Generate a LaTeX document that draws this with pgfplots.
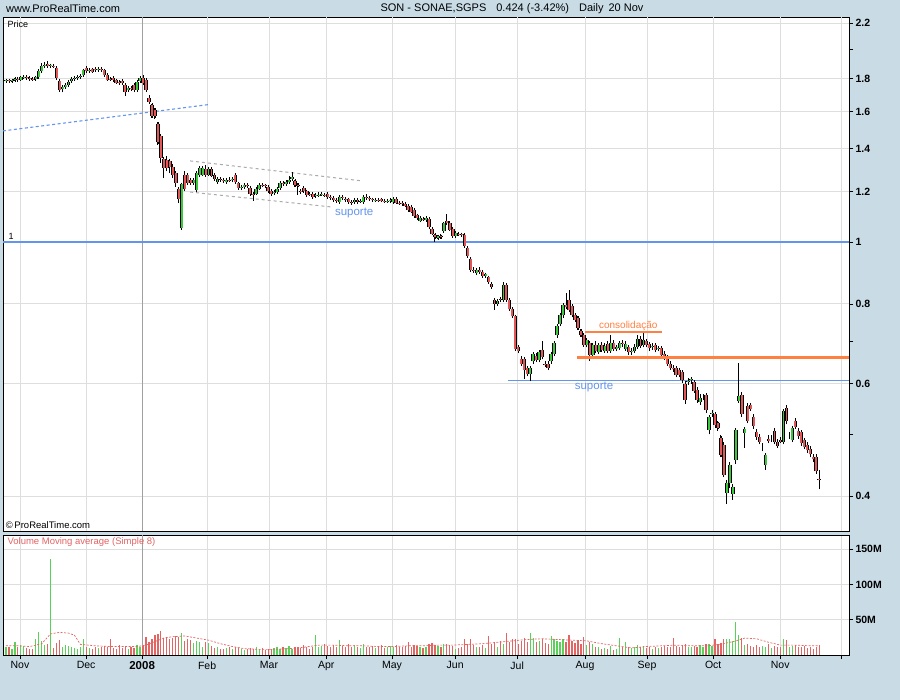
\documentclass[border=0pt]{standalone}
\usepackage{fontspec}
\setmainfont{Liberation Sans}
\usepackage{pgfplots}
\usepackage{pgfplotstable}
\pgfplotsset{compat=1.18}
\definecolor{bg}{RGB}{201,220,230}
\definecolor{gridc}{RGB}{222,222,222}
\definecolor{yearc}{RGB}{160,160,160}
\definecolor{cred}{RGB}{226,88,88}
\definecolor{cgreen}{RGB}{60,200,60}
\definecolor{vred}{RGB}{228,100,100}
\definecolor{vgreen}{RGB}{90,210,90}
\definecolor{lblue}{RGB}{100,149,237}
\definecolor{orng}{RGB}{255,128,64}
\definecolor{tagy}{RGB}{255,204,0}
\definecolor{chan}{RGB}{170,170,170}
% rising days (close >= open): x open high low close volume(M)
\pgfplotstableread{
x o h l c v
0 1.785 1.795 1.775 1.790 12
2 1.785 1.795 1.778 1.790 9
3 1.790 1.805 1.785 1.800 18
5 1.795 1.815 1.790 1.810 14
6 1.810 1.822 1.800 1.812 13
10 1.798 1.815 1.795 1.810 22
11 1.810 1.858 1.805 1.852 33
12 1.852 1.905 1.848 1.885 20
13 1.885 1.915 1.875 1.895 14
15 1.885 1.900 1.870 1.890 136
19 1.735 1.762 1.715 1.745 12
20 1.745 1.768 1.738 1.760 14
21 1.760 1.785 1.752 1.780 13
22 1.785 1.805 1.778 1.800 11
23 1.800 1.812 1.792 1.805 10
24 1.805 1.818 1.798 1.812 9
25 1.812 1.826 1.806 1.820 12
26 1.822 1.862 1.818 1.855 23
28 1.850 1.868 1.842 1.860 10
31 1.855 1.870 1.848 1.865 10
41 1.730 1.748 1.722 1.742 9
44 1.729 1.785 1.725 1.780 14
45 1.787 1.812 1.780 1.806 12
59 1.050 1.235 1.045 1.230 31
63 1.237 1.258 1.230 1.250 17
64 1.206 1.290 1.195 1.282 20
65 1.273 1.315 1.262 1.305 18
66 1.275 1.312 1.268 1.305 12
68 1.275 1.305 1.268 1.300 17
71 1.240 1.262 1.235 1.255 11
74 1.240 1.260 1.235 1.252 10
76 1.248 1.262 1.240 1.255 9
79 1.215 1.228 1.205 1.220 8
80 1.220 1.235 1.212 1.228 7
84 1.190 1.218 1.185 1.212 12
85 1.212 1.235 1.205 1.228 8
90 1.192 1.205 1.185 1.198 10
91 1.198 1.215 1.192 1.210 11
92 1.215 1.242 1.210 1.236 9
94 1.232 1.250 1.226 1.242 10
95 1.242 1.268 1.236 1.250 13
96 1.255 1.285 1.250 1.262 9
104 1.178 1.192 1.172 1.185 28
105 1.185 1.195 1.178 1.186 12
106 1.188 1.196 1.180 1.190 13
112 1.155 1.180 1.150 1.175 21
117 1.155 1.170 1.150 1.165 14
119 1.156 1.165 1.150 1.158 10
120 1.155 1.180 1.150 1.175 15
124 1.163 1.170 1.156 1.165 10
128 1.158 1.166 1.152 1.160 11
129 1.158 1.168 1.152 1.163 13
130 1.155 1.172 1.150 1.168 12
139 1.080 1.095 1.074 1.090 11
141 1.083 1.098 1.078 1.092 12
145 1.015 1.026 1.010 1.020 13
147 1.040 1.075 1.035 1.069 16
151 1.020 1.036 1.015 1.032 9
158 0.893 0.910 0.888 0.905 12
161 0.885 0.895 0.880 0.890 10
165 0.800 0.812 0.795 0.808 12
167 0.811 0.865 0.806 0.857 16
176 0.622 0.640 0.605 0.636 31
177 0.650 0.672 0.645 0.668 24
179 0.654 0.678 0.648 0.673 20
183 0.650 0.672 0.645 0.668 27
184 0.668 0.700 0.662 0.695 22
185 0.715 0.745 0.708 0.740 20
186 0.745 0.772 0.738 0.768 19
187 0.768 0.800 0.760 0.797 22
195 0.690 0.708 0.684 0.702 14
197 0.666 0.695 0.660 0.690 16
199 0.672 0.695 0.668 0.690 11
201 0.676 0.694 0.670 0.688 10
203 0.675 0.715 0.670 0.695 13
205 0.680 0.690 0.674 0.685 9
206 0.683 0.700 0.678 0.695 24
208 0.680 0.700 0.676 0.692 19
210 0.672 0.682 0.666 0.675 10
211 0.675 0.692 0.670 0.685 12
212 0.685 0.715 0.680 0.705 14
214 0.690 0.720 0.684 0.702 13
217 0.685 0.694 0.678 0.688 9
219 0.680 0.688 0.674 0.682 10
229 0.605 0.612 0.598 0.606 12
230 0.608 0.615 0.600 0.610 11
233 0.562 0.578 0.556 0.570 14
234 0.572 0.578 0.565 0.572 12
236 0.508 0.536 0.500 0.532 16
237 0.538 0.546 0.532 0.540 13
242 0.404 0.424 0.389 0.419 22
243 0.419 0.452 0.412 0.447 22
244 0.403 0.418 0.395 0.414 20
245 0.456 0.510 0.450 0.508 47
246 0.564 0.647 0.560 0.575 28
248 0.502 0.514 0.476 0.510 14
254 0.477 0.484 0.470 0.477 13
255 0.448 0.468 0.440 0.464 12
257 0.492 0.498 0.486 0.492 10
261 0.487 0.548 0.482 0.544 22
263 0.497 0.504 0.492 0.497 12
264 0.490 0.516 0.486 0.512 13
}\up
% falling days (close < open)
\pgfplotstableread{
x o h l c v
1 1.790 1.800 1.780 1.785 11
4 1.800 1.808 1.788 1.792 12
7 1.812 1.822 1.800 1.805 10
8 1.805 1.815 1.795 1.800 8
9 1.800 1.812 1.790 1.798 9
14 1.900 1.920 1.880 1.885 16
16 1.888 1.895 1.875 1.882 10
17 1.870 1.875 1.800 1.806 17
18 1.787 1.795 1.718 1.729 21
27 1.870 1.880 1.845 1.850 12
29 1.862 1.870 1.842 1.848 9
30 1.865 1.872 1.850 1.855 11
32 1.865 1.872 1.850 1.855 12
33 1.855 1.862 1.820 1.825 13
34 1.825 1.832 1.790 1.795 11
35 1.800 1.810 1.788 1.795 23
36 1.806 1.815 1.788 1.793 10
37 1.790 1.798 1.770 1.776 9
38 1.780 1.790 1.765 1.772 14
39 1.787 1.795 1.768 1.774 10
40 1.761 1.768 1.695 1.716 13
42 1.740 1.752 1.728 1.735 11
43 1.761 1.768 1.722 1.729 10
46 1.806 1.825 1.768 1.774 13
47 1.793 1.800 1.722 1.729 26
48 1.681 1.700 1.650 1.655 19
49 1.638 1.645 1.565 1.575 22
50 1.609 1.620 1.560 1.575 28
51 1.530 1.540 1.420 1.432 30
52 1.465 1.472 1.330 1.352 34
53 1.347 1.360 1.259 1.306 24
54 1.344 1.362 1.290 1.306 25
55 1.340 1.350 1.280 1.310 22
56 1.310 1.322 1.258 1.273 24
57 1.282 1.290 1.220 1.237 27
58 1.210 1.220 1.150 1.168 25
60 1.273 1.290 1.200 1.210 20
61 1.273 1.280 1.230 1.237 22
62 1.250 1.258 1.232 1.237 21
67 1.300 1.320 1.265 1.275 19
69 1.300 1.310 1.262 1.270 13
70 1.275 1.282 1.248 1.255 10
72 1.255 1.265 1.242 1.250 9
73 1.250 1.258 1.238 1.245 8
75 1.252 1.262 1.242 1.250 12
77 1.273 1.280 1.235 1.240 11
78 1.235 1.242 1.208 1.215 10
81 1.228 1.235 1.215 1.222 9
82 1.215 1.222 1.182 1.190 10
83 1.190 1.198 1.160 1.188 9
86 1.228 1.238 1.218 1.226 10
87 1.226 1.234 1.214 1.222 7
88 1.220 1.228 1.192 1.200 9
89 1.200 1.208 1.180 1.190 8
93 1.236 1.245 1.225 1.232 12
97 1.245 1.252 1.220 1.228 11
98 1.228 1.235 1.185 1.225 12
99 1.200 1.208 1.188 1.195 10
100 1.215 1.222 1.195 1.200 14
101 1.200 1.206 1.180 1.185 11
102 1.190 1.198 1.182 1.188 9
103 1.190 1.196 1.168 1.175 12
107 1.185 1.192 1.176 1.182 15
108 1.190 1.196 1.170 1.175 13
109 1.175 1.182 1.166 1.172 11
110 1.170 1.178 1.158 1.163 14
111 1.165 1.172 1.152 1.160 12
113 1.175 1.184 1.165 1.170 13
114 1.168 1.176 1.155 1.162 12
115 1.166 1.172 1.150 1.155 16
116 1.155 1.162 1.144 1.150 11
118 1.165 1.172 1.150 1.155 12
121 1.175 1.190 1.165 1.172 12
122 1.170 1.178 1.160 1.166 11
123 1.166 1.172 1.158 1.163 13
125 1.165 1.172 1.155 1.160 12
126 1.166 1.172 1.154 1.160 14
127 1.160 1.166 1.152 1.158 10
131 1.168 1.174 1.146 1.152 14
132 1.152 1.158 1.144 1.150 12
133 1.150 1.156 1.140 1.147 11
134 1.147 1.153 1.134 1.140 13
135 1.140 1.146 1.116 1.122 18
136 1.135 1.140 1.110 1.115 12
137 1.122 1.128 1.092 1.098 14
138 1.100 1.106 1.084 1.090 13
140 1.088 1.095 1.080 1.087 10
142 1.087 1.092 1.050 1.055 15
143 1.047 1.052 1.025 1.030 17
144 1.025 1.030 1.000 1.018 14
146 1.020 1.028 1.012 1.018 12
148 1.080 1.105 1.062 1.069 15
149 1.070 1.076 1.040 1.045 14
150 1.047 1.052 1.018 1.022 13
152 1.030 1.036 1.022 1.028 10
153 1.028 1.034 1.020 1.025 12
154 1.026 1.030 0.980 0.985 23
155 0.980 0.985 0.945 0.950 16
156 0.940 0.945 0.898 0.904 22
157 0.905 0.912 0.895 0.900 14
159 0.905 0.912 0.892 0.898 11
160 0.898 0.905 0.880 0.885 14
162 0.880 0.885 0.860 0.865 27
163 0.860 0.865 0.845 0.850 15
164 0.811 0.815 0.782 0.800 18
166 0.815 0.820 0.805 0.811 20
168 0.857 0.862 0.805 0.811 31
169 0.811 0.815 0.780 0.785 18
170 0.785 0.790 0.760 0.765 22
171 0.765 0.770 0.675 0.680 23
172 0.685 0.690 0.670 0.676 16
173 0.656 0.662 0.640 0.645 20
174 0.656 0.660 0.610 0.631 24
175 0.634 0.640 0.616 0.622 18
178 0.664 0.670 0.650 0.654 18
180 0.678 0.700 0.655 0.661 22
181 0.645 0.652 0.638 0.642 17
182 0.645 0.650 0.630 0.636 15
188 0.797 0.832 0.785 0.790 18
189 0.811 0.840 0.778 0.782 28
190 0.794 0.800 0.762 0.768 20
191 0.768 0.772 0.750 0.755 17
192 0.760 0.765 0.728 0.733 21
193 0.725 0.730 0.710 0.715 16
194 0.715 0.720 0.685 0.690 26
196 0.695 0.700 0.652 0.666 18
198 0.690 0.700 0.670 0.675 12
200 0.690 0.698 0.672 0.678 9
202 0.692 0.700 0.670 0.675 8
204 0.695 0.702 0.676 0.680 7
207 0.695 0.702 0.686 0.692 12
209 0.685 0.690 0.666 0.672 11
213 0.705 0.712 0.682 0.688 11
215 0.700 0.706 0.684 0.690 10
216 0.692 0.698 0.676 0.682 12
218 0.690 0.696 0.672 0.678 11
220 0.682 0.688 0.660 0.665 12
221 0.668 0.674 0.654 0.660 13
222 0.660 0.665 0.640 0.645 11
223 0.645 0.650 0.630 0.635 12
224 0.635 0.642 0.626 0.632 24
225 0.635 0.640 0.614 0.620 13
226 0.631 0.636 0.614 0.620 12
227 0.625 0.630 0.602 0.608 14
228 0.600 0.606 0.558 0.566 16
231 0.603 0.608 0.580 0.585 13
232 0.587 0.592 0.560 0.566 12
235 0.576 0.580 0.540 0.546 15
238 0.538 0.542 0.512 0.517 22
239 0.520 0.524 0.506 0.512 15
240 0.493 0.498 0.460 0.464 17
241 0.481 0.486 0.428 0.432 22
247 0.576 0.582 0.532 0.538 24
249 0.554 0.560 0.520 0.524 16
250 0.556 0.560 0.544 0.548 13
251 0.532 0.538 0.510 0.516 12
252 0.505 0.510 0.490 0.496 14
253 0.496 0.500 0.482 0.487 12
256 0.492 0.498 0.484 0.488 15
258 0.506 0.512 0.482 0.487 13
259 0.487 0.492 0.476 0.480 11
260 0.490 0.496 0.484 0.487 12
262 0.550 0.556 0.518 0.524 21
265 0.524 0.530 0.510 0.514 14
266 0.506 0.512 0.492 0.497 12
267 0.504 0.508 0.480 0.485 11
268 0.490 0.494 0.474 0.478 13
269 0.481 0.486 0.468 0.473 10
270 0.475 0.480 0.460 0.465 12
271 0.460 0.466 0.452 0.457 9
272 0.460 0.466 0.434 0.438 11
273 0.426 0.440 0.410 0.424 14.8
}\dn
\pgfplotsset{
  wick/.style={draw=none, mark=none, forget plot,
    error bars/.cd, y dir=plus, y explicit, error mark=none,
    error bar style={draw=black, line width=0.9pt}},
  bodyline/.style={draw=none, mark=none, forget plot,
    error bars/.cd, y dir=both, y explicit,
    error bar style={draw=black, line width=3.5pt},
    error mark=-, error mark options={draw=black, line width=0.8pt, mark size=1.75pt}},
  bodyfill/.style={draw=none, mark=none, forget plot,
    error bars/.cd, y dir=plus, y explicit, error mark=none,
    error bar style={draw=#1, line width=1.9pt}},
}
\begin{document}
\begin{tikzpicture}
\fill[bg, use as bounding box] (0pt,0pt) rectangle (900pt,-700pt);
% ---------------- price panel
\begin{axis}[
  at={(3pt,-531pt)}, anchor=south west, scale only axis,
  width=846pt, height=514pt,
  xmin=-1, xmax=283, ymode=log, ymin=0.3529, ymax=2.249,
  axis background/.style={fill=white},
  axis line style={black, line width=1pt},
  xtick=\empty,
  extra x ticks={4.7,26.9,67.5,88.3,107.5,129.6,150.8,171.6,194.4,215.2,237.4,259.9,280.4},
  extra x tick labels={},
  extra x tick style={grid=major, tick style={draw=none}},
  ytick={0.4,0.6,0.8,1,1.2,1.4,1.6,1.8,2.2},
  yticklabels={0.4,0.6,0.8,1,1.2,1.4,1.6,1.8,2.2},
  minor ytick={0.5,0.7,2},
  ymajorgrids,
  ytick pos=right, yticklabel pos=right, tick align=outside,
  major tick length=4pt, minor tick length=4pt,
  tick style={black, line width=0.7pt},
  grid style={gridc, line width=0.9pt},
  yticklabel style={font=\bfseries\fontsize{10.5}{12}\selectfont, xshift=-1pt},
]
\addplot[yearc, line width=0.9pt, forget plot] coordinates {(45.7,0.3529) (45.7,2.249)};
\addplot[lblue, line width=1.4pt] coordinates {(-1,1) (283,1)};
\addplot[lblue, line width=1.4pt] coordinates {(168.6,0.607) (283,0.607)};
\addplot[lblue, line width=1.1pt, dash pattern=on 3pt off 2.5pt] coordinates {(-1,1.492) (67.8,1.640)};
\addplot[chan, line width=1pt, dash pattern=on 3pt off 3pt] coordinates {(61.8,1.339) (119.5,1.246)};
\addplot[chan, line width=1pt, dash pattern=on 3pt off 3pt] coordinates {(61.8,1.197) (109.5,1.134)};
% wicks
\addplot[wick] table[x=x, y=l, y error plus expr=\thisrow{h}-\thisrow{l}] {\up};
\addplot[wick] table[x=x, y=l, y error plus expr=\thisrow{h}-\thisrow{l}] {\dn};
% bodies
\addplot[bodyline] table[x=x, y=o, y error plus expr=\thisrow{c}-\thisrow{o}, y error minus expr=0] {\up};
\addplot[bodyfill=cgreen] table[x=x, y=o, y error plus expr=\thisrow{c}-\thisrow{o}] {\up};
\addplot[bodyline] table[x=x, y=c, y error plus expr=\thisrow{o}-\thisrow{c}, y error minus expr=0] {\dn};
\addplot[bodyfill=cred] table[x=x, y=c, y error plus expr=\thisrow{o}-\thisrow{c}] {\dn};
% orange lines
\addplot[orng, line width=2.4pt] coordinates {(194.4,0.723) (220.3,0.723)};
\addplot[orng, line width=2.4pt] coordinates {(191.7,0.659) (283,0.659)};
% texts
\node[anchor=north west, font=\fontsize{9}{10}\selectfont, inner sep=1pt] at (rel axis cs:0.004,0.995) {Price};
\node[anchor=south west, font=\fontsize{9}{10}\selectfont, inner sep=1pt] at (axis cs:0.5,1.003) {1};
\node[anchor=south west, font=\fontsize{9.5}{10}\selectfont, inner sep=1pt] at (rel axis cs:0.002,0.002) {\textcopyright\,ProRealTime.com};
\node[lblue, font=\fontsize{11.5}{12}\selectfont, inner sep=0pt] at (axis cs:116.9,1.111) {suporte};
\node[lblue, font=\fontsize{11.5}{12}\selectfont, inner sep=0pt] at (axis cs:197.4,0.594) {suporte};
\node[orng, font=\fontsize{10}{11}\selectfont, inner sep=0pt] at (axis cs:208.9,0.738) {consolidação};
\node[fill=tagy, draw=black, line width=0.7pt, anchor=west, inner sep=1.5pt, font=\bfseries\fontsize{10.5}{12}\selectfont] at (axis cs:284.5,0.424) {0.424};
\end{axis}
% ---------------- volume panel
\begin{axis}[
  at={(3pt,-655pt)}, anchor=south west, scale only axis,
  width=846pt, height=120pt,
  xmin=-1, xmax=283, ymin=0, ymax=170,
  axis background/.style={fill=white},
  axis line style={black, line width=1pt},
  xtick={4.7,26.9,67.5,88.3,107.5,129.6,150.8,171.6,194.4,215.2,237.4,259.9,280.4},
  xticklabels={Nov,Dec,Feb,Mar,Apr,May,Jun,Jul,Aug,Sep,Oct,Nov,},
  extra x ticks={45.7}, extra x tick labels={\textbf{2008}},
  extra x tick style={major grid style={yearc, line width=0.9pt}, xticklabel style={font=\bfseries\fontsize{11.5}{13}\selectfont}},
  ytick={50,100,150}, yticklabels={50M,100M,150M},
  xmajorgrids, ymajorgrids,
  grid style={gridc, line width=0.9pt},
  xtick pos=bottom, ytick pos=right, yticklabel pos=right, tick align=outside,
  major tick length=4pt,
  tick style={black, line width=0.7pt},
  yticklabel style={font=\bfseries\fontsize{10.5}{12}\selectfont, xshift=-1pt},
  xticklabel style={font=\fontsize{10.5}{12}\selectfont, yshift=1pt},
]
\addplot[vgreen, ycomb, mark=none, line width=1.2pt] table[x=x, y=v] {\up};
\addplot[vred, ycomb, mark=none, line width=1.2pt] table[x=x, y=v] {\dn};
\addplot[vred, line width=0.7pt, dash pattern=on 2pt off 1.5pt] coordinates {
(0,13)(4,13)(8,12)(12,16)(15,30)(18,32)(21,31)(23,28)(25,15)(30,13)(35,12)(40,12)(44,12)
(47,14)(50,19)(53,24)(56,26)(60,27)(64,24)(68,21)(72,16)(76,12)(80,9)(85,8)(90,8)(95,9)
(100,11)(105,14)(110,14)(115,13)(120,13)(125,12)(130,12)(135,13)(140,13)(145,14)(150,14)
(155,15)(160,16)(165,18)(170,20)(175,22)(180,23)(185,22)(190,21)(195,20)(200,16)(205,13)
(210,10)(215,12)(220,13)(225,14)(230,13)(235,13)(240,15)(245,20)(248,24)(252,23)(256,18)
(260,14)(265,14)(270,13)(273,13)};
\node[anchor=north west, vred, font=\fontsize{9.5}{10}\selectfont, inner sep=1pt] at (rel axis cs:0.004,0.99) {Volume Moving average (Simple 8)};
\node[fill=tagy, draw=black, line width=0.7pt, anchor=west, inner sep=1.5pt, font=\bfseries\fontsize{10.5}{12}\selectfont] at (axis cs:284.5,14.8) {14.8M};
\end{axis}
% header
\node[anchor=west, font=\fontsize{11}{13}\selectfont, inner sep=0pt] at (6pt,-9pt) {www.ProRealTime.com};
\node[font=\fontsize{11}{13}\selectfont, inner sep=0pt] at (512pt,-9pt) {SON - SONAE,SGPS\hspace{10pt}0.424 (-3.42\%)\hspace{10pt}Daily\hspace{5pt}20 Nov};
\end{tikzpicture}
\end{document}
